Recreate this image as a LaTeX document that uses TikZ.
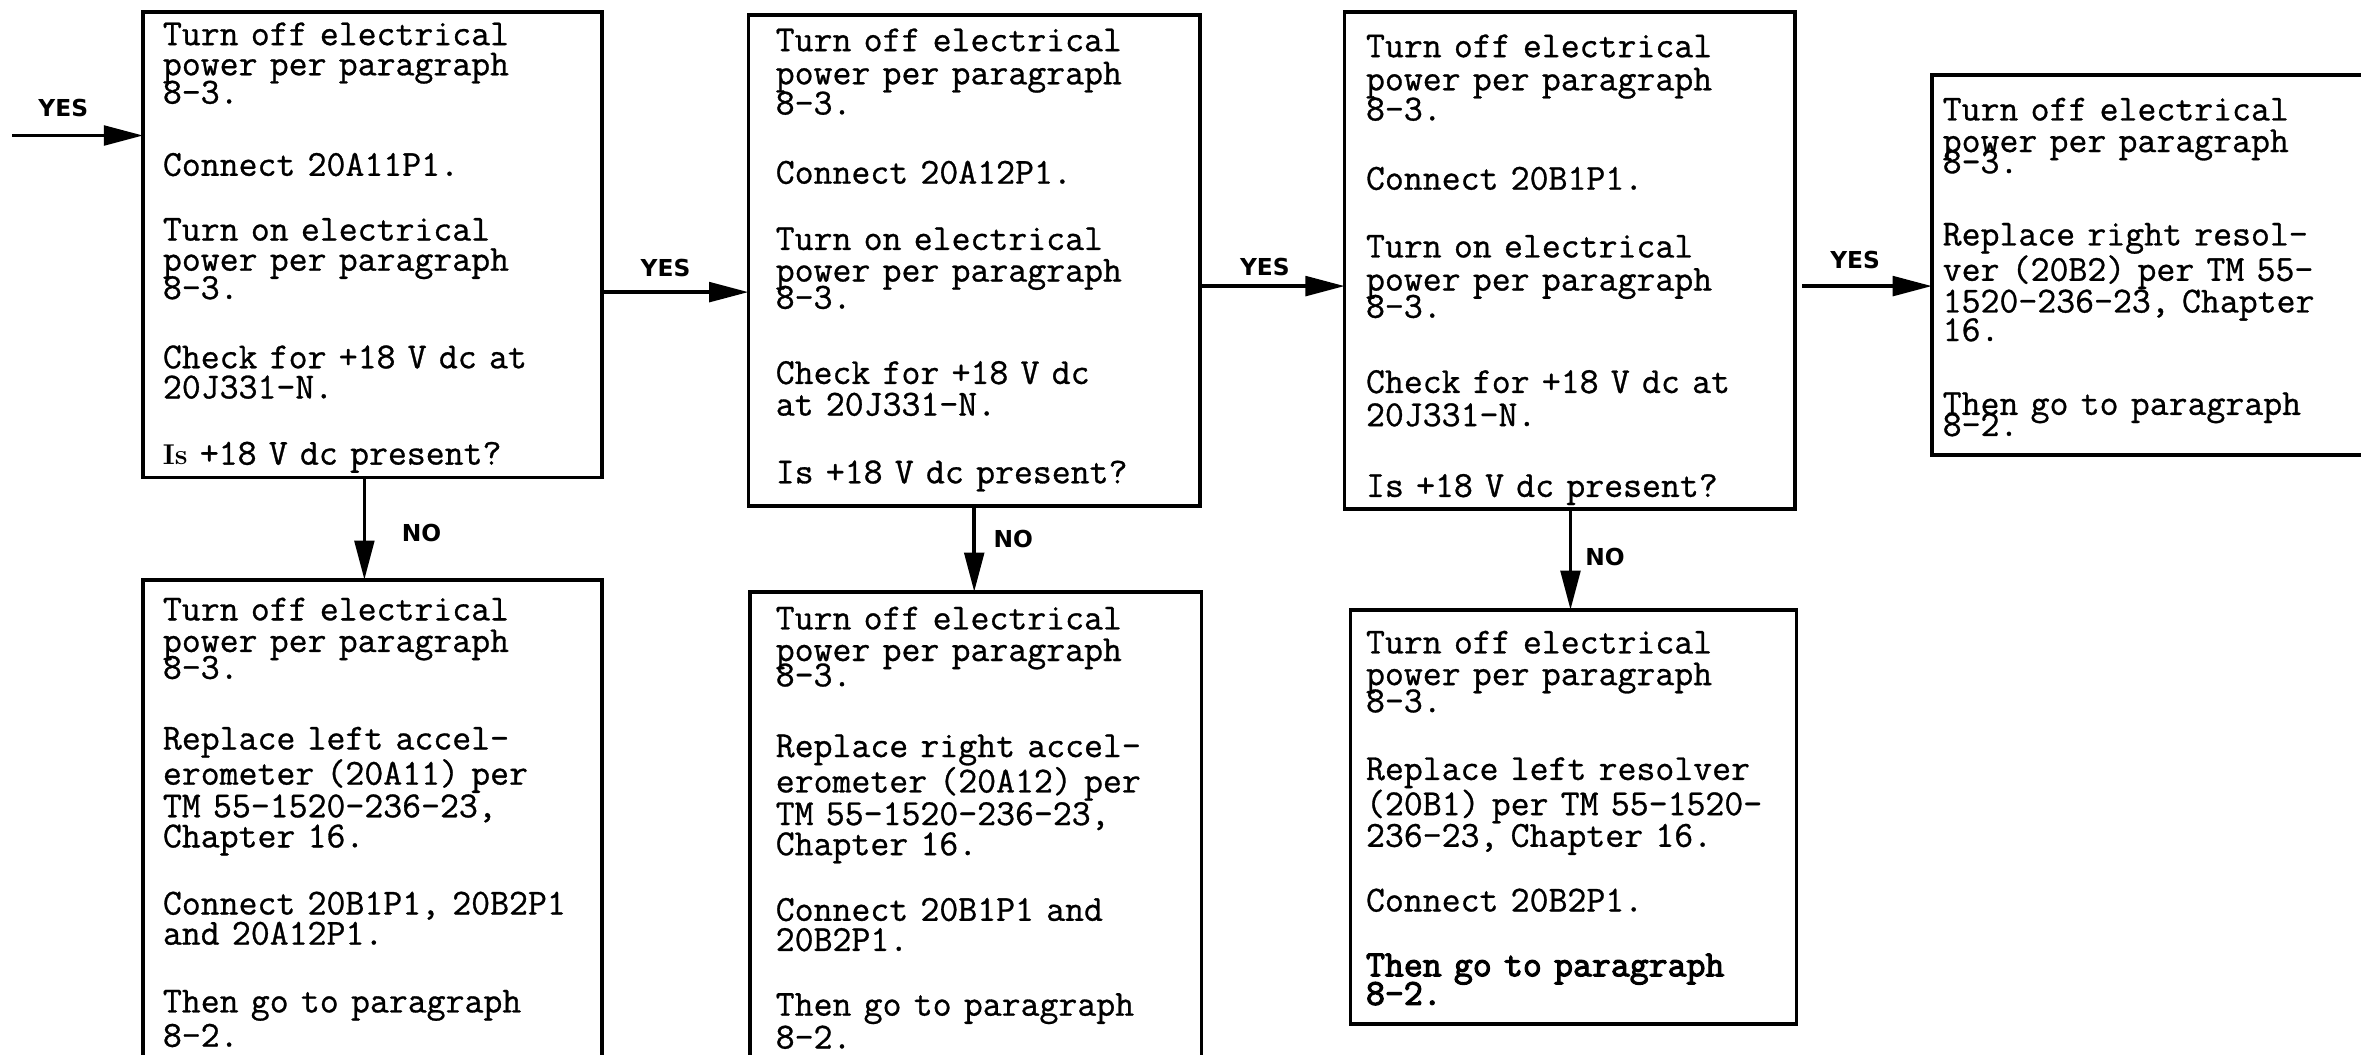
\documentclass[tikz,border=0pt]{standalone}
\usepackage{fontspec}
\usetikzlibrary{arrows.meta}
\newfontfamily\tmono[FakeBold=0.8]{Latin Modern Mono}
\newfontfamily\tmonobf[FakeBold=3]{Latin Modern Mono}
\newfontfamily\lblsans{DejaVu Sans}
\tikzset{
  flowbox/.style={draw, line width=2.4pt, rectangle, inner sep=0pt, outer sep=0pt, anchor=north west},
  txt/.style={anchor=base west, inner sep=0pt, text width=330pt, align=left, font=\tmono\fontsize{24.4}{#1}\selectfont},
  arr/.style={line width=2.4pt, -{Triangle[length=26pt,width=13pt]}},
  lbl/.style={font=\lblsans\bfseries\fontsize{15.5}{15.5}\selectfont, inner sep=0pt},
}
\begin{document}
\begin{tikzpicture}[x=1pt,y=-1pt]
\useasboundingbox (0,0) rectangle (1568,700);
% boxes
\node[flowbox, minimum width=305pt, minimum height=309pt] (A) at (95,8) {};
\node[flowbox, minimum width=300pt, minimum height=326pt] (B) at (497,10) {};
\node[flowbox, minimum width=299pt, minimum height=330pt] (C) at (893,8) {};
\node[flowbox, minimum width=292pt, minimum height=252pt] (D) at (1283,50) {};
\node[flowbox, minimum width=305pt, minimum height=320pt] (E) at (95,385) {};
\node[flowbox, minimum width=300pt, minimum height=312pt] (F) at (498,393) {};
\node[flowbox, minimum width=296pt, minimum height=275pt] (G) at (897,405) {};
% texts
\node[txt=20] (tA) at (108,30) {Turn off electrical\\
power per paragraph\\[-3pt]
8-3.\\[28pt]
Connect 20A11P1.\\[23pt]
Turn on electrical\\
power per paragraph\\[-3pt]
8-3.\\[26pt]
Check for +18 V dc at\\
20J331-N.\\[24pt]
{\rmfamily\bfseries\fontsize{19}{19}\selectfont Is} +18 V dc present?};
\node[txt=21] (tB) at (515,34) {Turn off electrical\\[1pt]
power per paragraph\\[-1pt]
8-3.\\[25pt]
Connect 20A12P1.\\[23pt]
Turn on electrical\\
power per paragraph\\[-3pt]
8-3.\\[29pt]
Check for +18 V dc\\
at 20J331-N.\\[24pt]
Is +18 V dc present?};
\node[txt=22] (tC) at (907,38) {Turn off electrical\\
power per paragraph\\[-2pt]
8-3.\\[24pt]
Connect 20B1P1.\\[23pt]
Turn on electrical\\
power per paragraph\\[-4pt]
8-3.\\[28pt]
Check for +18 V dc at\\
20J331-N.\\[25pt]
Is +18 V dc present?};
\node[txt=21] (tD) at (1290,80) {Turn off electrical\\
power per paragraph\\[-7pt]
8-3.\\[27pt]
Replace right resol-\\
ver (20B2) per TM 55-\\
1520-236-23, Chapter\\[-2pt]
16.\\[28pt]
Then go to paragraph\\[-7pt]
8-2.};
\node[txt=20] (tE) at (108,412) {Turn off electrical\\[1pt]
power per paragraph\\[-4pt]
8-3.\\[27pt]
Replace left accel-\\
erometer (20A11) per\\
TM 55-1520-236-23,\\
Chapter 16.\\[23pt]
Connect 20B1P1, 20B2P1\\
and 20A12P1.\\[25pt]
Then go to paragraph\\[1pt]
8-2.};
\node[txt=20] (tF) at (515,418) {Turn off electrical\\[1pt]
power per paragraph\\[-5pt]
8-3.\\[27pt]
Replace right accel-\\
erometer (20A12) per\\
TM 55-1520-236-23,\\
Chapter 16.\\[22pt]
Connect 20B1P1 and\\
20B2P1.\\[23pt]
Then go to paragraph\\
8-2.};
\node[txt=21] (tG) at (907,434) {Turn off electrical\\
power per paragraph\\[-3pt]
8-3.\\[24pt]
Replace left resolver\\
(20B1) per TM 55-1520-\\
236-23, Chapter 16.\\[22pt]
Connect 20B2P1.\\[22pt]
{\tmonobf Then go to paragraph\\[-2pt]
8-2.}};
% connector helpers
\coordinate (in) at (8,90);
\coordinate (yAB) at (0,194);
\coordinate (yBC) at (0,190);
\coordinate (yCD) at (0,190);
\coordinate (xAE) at (242,0);
\coordinate (xBF) at (647,0);
\coordinate (xCG) at (1043,0);
% YES arrows
\draw[arr] (in) -- (in -| A.west);
\draw[arr] (A.east |- yAB) -- (B.west |- yAB);
\draw[arr] (B.east |- yBC) -- (C.west |- yBC);
\draw[arr] ([xshift=5pt]C.east |- yCD) -- (D.west |- yCD);
% NO arrows
\draw[arr] (A.south -| xAE) -- (E.north -| xAE);
\draw[arr] (B.south -| xBF) -- (F.north -| xBF);
\draw[arr] (C.south -| xCG) -- (G.north -| xCG);
% labels
\node[lbl] (y0) at (42,72) {YES};
\node[lbl] (y1) at (442,178) {YES};
\node[lbl] (y2) at (840,177) {YES};
\node[lbl] (y3) at (1232,173) {YES};
\node[lbl] (n1) at (280,354) {NO};
\node[lbl] (n2) at (673,358) {NO};
\node[lbl] (n3) at (1066,370) {NO};
\end{tikzpicture}
\end{document}
